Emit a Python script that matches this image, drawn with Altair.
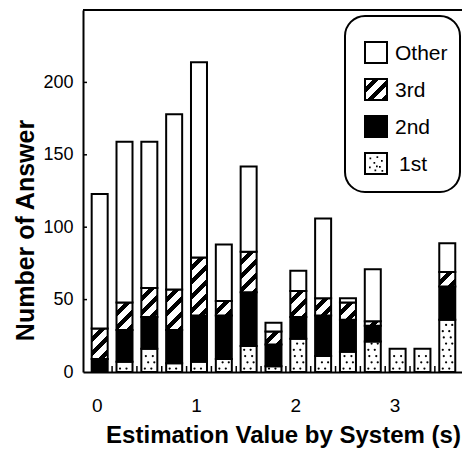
import math
import altair as alt

# ---------------- data ----------------
x_vals = [0.0, 0.25, 0.5, 0.75, 1.0, 1.25, 1.5, 1.75, 2.0, 2.25, 2.5, 2.75, 3.0, 3.25, 3.5]
first = [0, 7, 16, 6, 7, 9, 18, 4, 23, 11, 14, 21, 16, 16, 36]
second = [9, 22, 22, 23, 32, 30, 37, 15, 15, 28, 22, 11, 0, 0, 23]
third = [21, 19, 20, 28, 40, 10, 28, 9, 18, 12, 12, 3, 0, 0, 10]
other = [93, 111, 101, 121, 135, 39, 59, 6, 14, 55, 3, 36, 0, 0, 20]
categories = ["1st", "2nd", "3rd", "Other"]
legend_order = ["Other", "3rd", "2nd", "1st"]
x_tick_labels = [0, 1, 2, 3]
y_tick_labels = [0, 50, 100, 150, 200]

# ---------------- layout / style ----------------
W, H = 379, 362
Y_MAX = 250
X_DOMAIN = [-0.1176, 3.598]
BAR_PX = 16
PX_PER_UNIT = H / Y_MAX
FONT = "Liberation Sans"


def hatch(w, h, period=10.0, ink=0.42):
    """Diagonal '/' stripes as a linear gradient in bounding-box units."""
    s = (w + h) / (w * w + h * h)
    D = (w + h) / math.sqrt(2)
    stops = []
    k = 0
    while k * period < D:
        a = k * period / D
        b = min((k * period + period * (1 - ink)) / D, 1)
        c = min((k + 1) * period / D, 1)
        stops += [
            {"offset": a, "color": "white"},
            {"offset": b, "color": "white"},
            {"offset": b, "color": "black"},
            {"offset": c, "color": "black"},
        ]
        k += 1
    return {"gradient": "linear", "x1": 0, "y1": 0, "x2": w * s, "y2": h * s, "stops": stops}


# stacked segments
rows = []
series = dict(zip(categories, [first, second, third, other]))
for i, xv in enumerate(x_vals):
    base = 0
    for cat in categories:
        v = series[cat][i]
        if v > 0:
            if cat == "3rd":
                fill = hatch(BAR_PX, v * PX_PER_UNIT)
            elif cat == "2nd":
                fill = "black"
            else:
                fill = "white"
            rows.append({"x": xv, "cat": cat, "y0": base, "y1": base + v, "fill": fill})
        base += v

# stipple texture for the "1st" segments
dot_rows = []
pattern = [[-0.045, 0.02], [-0.012, 0.05], [-0.035, 0.035]]
for xv, v in zip(x_vals, first):
    r = 0
    yy = 2.4
    while yy <= v - 1.3:
        for off in pattern[r % 3]:
            dot_rows.append({"x": xv + off, "y0": yy})
        r += 1
        yy += 4.3

edge_rows = [{"x": xv + 0.125} for xv in x_vals if X_DOMAIN[0] < xv + 0.125 < X_DOMAIN[1]]
ytick_rows = [{"y0": v} for v in y_tick_labels if v > 0]

x_axis = alt.Axis(
    values=x_tick_labels, format="d", tickSize=0, labelFontSize=19, labelPadding=24,
    labelOffset=-3, domainWidth=2, titleFontSize=24, titleFontWeight="bold",
    titleX=200, titleY=70, titleBaseline="alphabetic", titleAlign="center",
)
y_axis = alt.Axis(
    values=y_tick_labels, tickSize=0, labelFontSize=18, labelPadding=10,
    domainWidth=2, titleFontSize=25, titleFontWeight="bold",
    titleX=-50, titleY=220, titleBaseline="alphabetic", titleAlign="center", titleAngle=-90,
)
x_enc = alt.X("x:Q", scale=alt.Scale(domain=X_DOMAIN, nice=False, zero=False),
              axis=x_axis, title="Estimation Value by System (s)")
y_enc = alt.Y("y0:Q", scale=alt.Scale(domain=[0, Y_MAX], nice=False),
              axis=y_axis, title="Number of Answer")

bars = alt.Chart(alt.Data(values=rows)).mark_bar(
    size=BAR_PX, stroke="black", strokeWidth=2
).encode(x=x_enc, y=y_enc, y2="y1:Q", fill=alt.Fill("fill:N", scale=None, legend=None))

dots = alt.Chart(alt.Data(values=dot_rows)).mark_point(
    filled=True, color="black", size=5, shape="circle", opacity=1
).encode(x=x_enc, y=y_enc)

edge_ticks = alt.Chart(alt.Data(values=edge_rows)).mark_rule(
    color="black", strokeWidth=1.5
).encode(x=x_enc, y=alt.value(H), y2=alt.value(H - 6))

y_ticks = alt.Chart(alt.Data(values=ytick_rows)).mark_rule(
    color="black", strokeWidth=1.5
).encode(y=y_enc, x=alt.value(0), x2=alt.value(4))

one = alt.Data(values=[{"k": 1}])
top_line = alt.Chart(one).mark_rule(color="black", strokeWidth=2).encode(
    x=alt.value(0), x2=alt.value(W + 2), y=alt.value(0)
)

# ---------------- legend ----------------
legend_layers = [
    alt.Chart(one).mark_rect(cornerRadius=20, fill="white", stroke="black", strokeWidth=2).encode(
        x=alt.value(262), x2=alt.value(377), y=alt.value(6), y2=alt.value(182)
    )
]
SQ_X0, SQ_W, SQ_H, TOP0, STEP = 282, 22, 21, 32, 37
legend_fills = {"Other": "white", "3rd": hatch(SQ_W, SQ_H), "2nd": "black", "1st": "white"}
dot_path = " ".join(
    f"M{px},{py}h0.17v0.17h-0.17Z"
    for px, py in [(-0.65, -0.6), (0.05, -0.72), (0.5, -0.35), (-0.25, -0.15),
                   (-0.7, 0.3), (0.3, 0.25), (-0.15, 0.6), (0.55, 0.65), (0.0, 0.2)]
)
for i, lab in enumerate(legend_order):
    top = TOP0 + STEP * i
    legend_layers.append(
        alt.Chart(one).mark_rect(fill=legend_fills[lab], stroke="black", strokeWidth=2).encode(
            x=alt.value(SQ_X0), x2=alt.value(SQ_X0 + SQ_W), y=alt.value(top), y2=alt.value(top + SQ_H)
        )
    )
    if lab == "1st":
        legend_layers.append(
            alt.Chart(one).mark_point(shape=dot_path, filled=True, color="black", size=20 * 20, opacity=1).encode(
                x=alt.value(SQ_X0 + SQ_W / 2), y=alt.value(top + SQ_H / 2)
            )
        )
    legend_layers.append(
        alt.Chart(one).mark_text(align="left", baseline="middle", fontSize=21, font=FONT, color="black").encode(
            x=alt.value(312 if lab != "1st" else 316), y=alt.value(top + SQ_H / 2 + 1), text=alt.value(lab)
        )
    )

chart = alt.layer(bars, dots, edge_ticks, y_ticks, top_line, *legend_layers).properties(
    width=W, height=H,
    autosize=alt.AutoSizeParams(type="none"),
    padding={"left": 75, "top": 2, "right": 0, "bottom": 78},
    background="white",
).configure_view(stroke=None).configure_axis(
    labelFont=FONT, titleFont=FONT, labelColor="black", titleColor="black",
    domainColor="black", grid=False,
)

chart.save("out.html", embed_options={"renderer": "svg", "actions": False})
